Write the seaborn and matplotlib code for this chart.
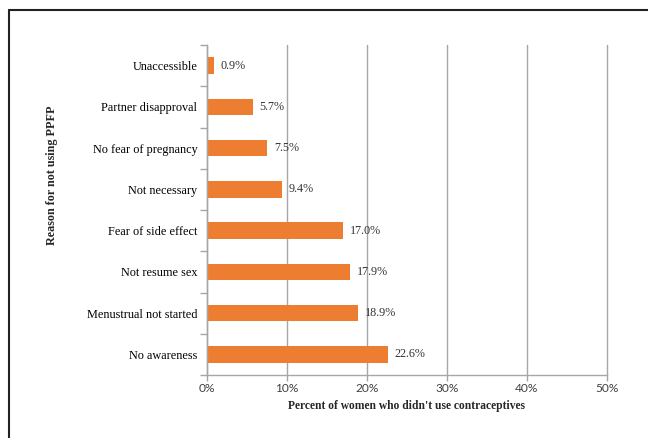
import matplotlib
matplotlib.use("Agg")
import matplotlib.pyplot as plt
import seaborn as sns
import pandas as pd
from matplotlib.lines import Line2D
from matplotlib.ticker import FixedLocator, FuncFormatter

reasons = ["Unaccessible", "Partner disapproval", "No fear of pregnancy", "Not necessary",
           "Fear of side effect", "Not resume sex", "Menustrual not started", "No awareness"]
percents = [0.9, 5.7, 7.5, 9.4, 17.0, 17.9, 18.9, 22.6]
xticks = [0, 10, 20, 30, 40, 50]

sns.set_style("white")
plt.rcParams['font.family'] = ['Liberation Serif', 'DejaVu Serif']

df = pd.DataFrame({"reason": reasons, "pct": percents})

fig = plt.figure(figsize=(6.48, 4.38), dpi=100)
ax = fig.add_axes([207/648, 1-375/438, 400/648, 330/438])

grid_c = "#a6a6a6"
sns.barplot(data=df, x="pct", y="reason", orient="h", color="#ed7d31", saturation=1,
            width=0.40, linewidth=0, ax=ax, zorder=3)

ax.set_xlim(0, 50)
ax.set_ylim(len(reasons) - 0.5, -0.5)
ax.set_xticks(xticks)
ax.xaxis.set_major_formatter(FuncFormatter(lambda v, p: f"{v:.0f}%"))
ax.grid(axis="x", color=grid_c, linewidth=1.0, zorder=0)
for gl in ax.get_xgridlines():
    gl.set_clip_on(False)
ax.set_axisbelow(True)
for s in ["top", "right"]:
    ax.spines[s].set_visible(False)
for s in ["left", "bottom"]:
    ax.spines[s].set_color(grid_c)
    ax.spines[s].set_linewidth(1.0)
    ax.spines[s].set_zorder(5)

ax.tick_params(axis="x", which="major", bottom=True, length=4, width=1.0, color=grid_c,
               direction="out", pad=2, labelsize=8.6, labelcolor="#404040")
for lab in ax.get_xticklabels():
    lab.set_family(["Lato", "DejaVu Sans"])
ax.tick_params(axis="y", which="major", left=False, length=0, pad=7, labelsize=8.8,
               labelcolor="#000000")
ax.yaxis.set_minor_locator(FixedLocator([i - 0.5 for i in range(len(reasons) + 1)]))
ax.tick_params(axis="y", which="minor", left=True, length=5, color=grid_c, width=1.0,
               direction="out")

for i, v in enumerate(percents):
    ax.text(v + 0.85, i, f"{v:.1f}%", va="center", ha="left", fontsize=8.7, color="#333333",
            zorder=6)

ax.set_xlabel("Percent of women who didn't use contraceptives", fontsize=8.3,
              fontweight="bold", labelpad=4)
ax.set_ylabel("")
fig.text(52/648, 1-175/438, "Reason for not using PPFP", rotation=90, fontsize=8.7,
         fontweight="bold", ha="center", va="center")

# outer frame
fig.add_artist(Line2D([9/648, 9/648], [0, 1-10/438], transform=fig.transFigure,
                      color="#222222", linewidth=1.5))
fig.add_artist(Line2D([9/648, 1], [1-10/438, 1-10/438], transform=fig.transFigure,
                      color="#222222", linewidth=1.5))

fig.savefig("out.png", dpi=100)
